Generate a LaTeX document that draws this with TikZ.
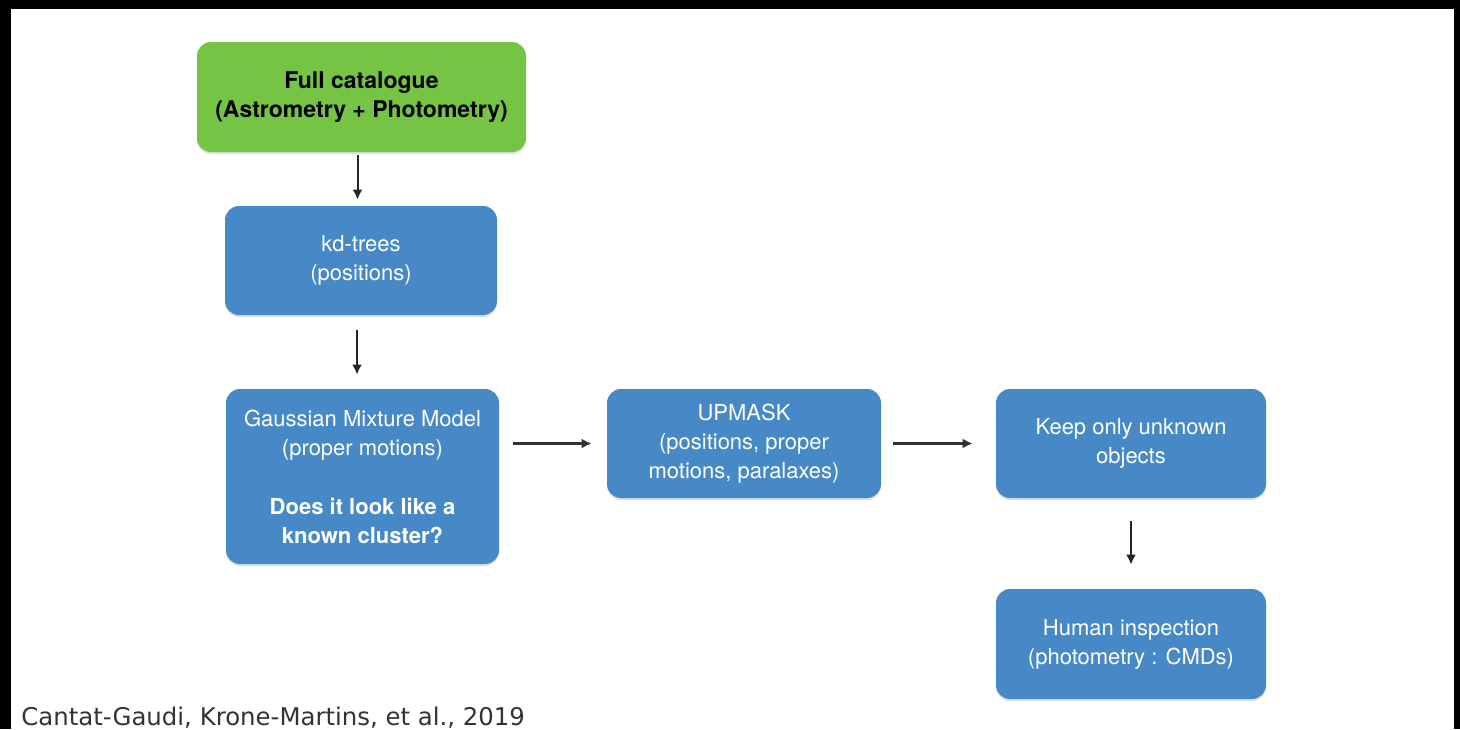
\documentclass[tikz,border=0pt]{standalone}
\usepackage{fontspec}
\setmainfont{TeX Gyre Heros}
\newfontfamily\citefont{DejaVu Sans}
\usepackage{tikz}
\usetikzlibrary{arrows.meta, shadows}

\definecolor{boxblue}{HTML}{4689C6}
\definecolor{boxgreen}{HTML}{76C443}

\begin{document}
\begin{tikzpicture}[x=0.5pt, y=-0.5pt,
    every node/.style={font=\fontsize{11}{14.5}\selectfont, align=center, inner sep=0pt},
    stepbox/.style={rectangle, rounded corners=7pt, fill=boxblue, text=white,
      drop shadow={shadow xshift=0pt, shadow yshift=-1pt, opacity=0.25}},
    flow/.style={-{Latex[length=5pt, width=5pt]}, line width=1pt, black!85},
    wideflow/.style={flow, line width=1.5pt, black!80}]
  % frame
  \fill[black] (0,0) rectangle (1460,729);
  \fill[white] (11,9) rectangle (1454,729);
  % boxes
  \node[stepbox, fill=boxgreen, text=black, font=\bfseries\fontsize{11.5}{14.5}\selectfont,
    minimum width=164.5pt, minimum height=55pt] (cat) at (361.5,97)
    {Full catalogue\\(Astrometry + Photometry)};
  \node[stepbox, minimum width=136pt, minimum height=54.5pt] (kd) at (361,260.5)
    {kd-trees\\(positions)};
  \node[stepbox, minimum width=136.5pt, minimum height=87.5pt] (gmm) at (362.5,476.5)
    {Gaussian Mixture Model\\(proper motions)\\[15pt]\textbf{Does it look like a}\\\textbf{known cluster?}};
  \node[stepbox, minimum width=137pt, minimum height=54.5pt] (upmask) at (744,443.5)
    {UPMASK\\(positions, proper\\motions, paralaxes)};
  \node[stepbox, minimum width=135pt, minimum height=54.5pt] (keep) at (1131,443.5)
    {Keep only unknown\\objects};
  \node[stepbox, minimum width=135pt, minimum height=55pt] (human) at (1131,644)
    {Human inspection\\(photometry : CMDs)};
  % arrows
  \draw[flow, shorten <=1.5pt, shorten >=3pt] ([xshift=-2pt]cat.south) -- ([xshift=-2pt]cat.south |- kd.north);
  \draw[flow, shorten <=7.5pt, shorten >=7pt] ([xshift=-2pt]kd.south) -- ([xshift=-2pt]kd.south |- gmm.north);
  \draw[wideflow, shorten <=7pt, shorten >=7.5pt] (gmm.east |- upmask.west) -- (upmask.west);
  \draw[wideflow, shorten <=6pt, shorten >=11.5pt] (upmask.east) -- (keep.west);
  \draw[flow, shorten <=11.5pt, shorten >=12pt] (keep.south) -- (human.north);
  % source
  \node[anchor=south west, font=\citefont\fontsize{12.2}{14}\selectfont, text=black!80] (src) at (21,729)
    {Cantat-Gaudi, Krone-Martins, et al., 2019};
\end{tikzpicture}
\end{document}
